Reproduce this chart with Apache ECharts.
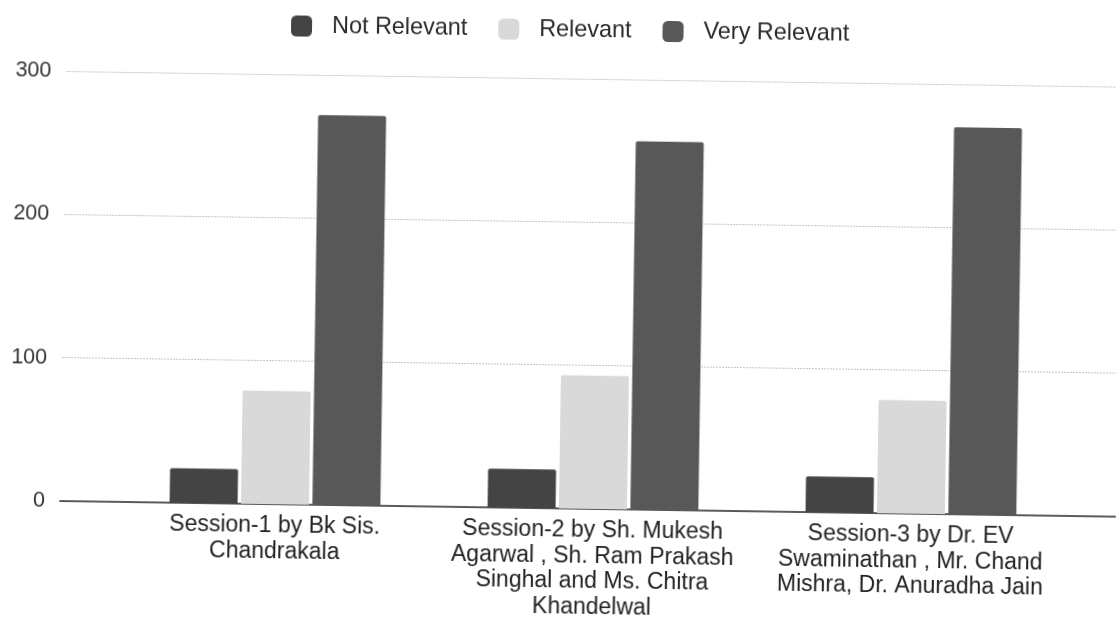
<!DOCTYPE html>
<html>
<head>
<meta charset="utf-8">
<script src="https://cdn.jsdelivr.net/npm/echarts@6/dist/echarts.min.js"></script>
<style>
  html, body { margin: 0; padding: 0; background: #ffffff; overflow: hidden; }
  /* the printed sheet sits slightly askew */
  #chart {
    width: 1116px; height: 617px;
    transform-origin: 60px 501px;
    transform: rotate(0.85deg);
  }
</style>
</head>
<body>
<div id="chart"></div>
<script>
// Session categories (x axis)
const sessions = [
  'Session-1 by Bk Sis.\nChandrakala',
  'Session-2 by Sh. Mukesh\nAgarwal , Sh. Ram Prakash\nSinghal and Ms. Chitra\nKhandelwal',
  'Session-3 by Dr. EV\nSwaminathan , Mr. Chand\nMishra, Dr. Anuradha Jain'
];
// Responses per session
const notRelevant  = [24, 27, 25];
const relevant     = [79, 93, 79];
const veryRelevant = [272, 257, 270];
// Value axis ticks
const yTicks = [0, 100, 200, 300];

const FONT = '"Liberation Sans", Arial, sans-serif';
const chart = echarts.init(document.getElementById('chart'), null, { renderer: 'canvas' });

const yMin = yTicks[0];
const yMax = yTicks[yTicks.length - 1];
const yStep = yTicks[1] - yTicks[0];

chart.setOption({
  backgroundColor: '#ffffff',
  animation: false,
  textStyle: { fontFamily: FONT },
  legend: {
    left: 284,
    top: 11,
    padding: 0,
    itemWidth: 21,
    itemHeight: 21,
    itemGap: 31,
    icon: 'roundRect',
    textStyle: { fontSize: 23.4, color: '#2a2a2a', fontFamily: FONT, padding: [0, 0, 0, 15] },
    data: ['Not Relevant', 'Relevant', 'Very Relevant']
  },
  grid: [
    // full-width frame for gridlines and baseline
    { left: 60, right: 0, top: 71, bottom: 116 },
    // plot band holding the grouped bars
    { left: 116, right: 46, top: 71, bottom: 116 }
  ],
  xAxis: [
    {
      gridIndex: 0, type: 'value', min: 0, max: 1,
      axisLine: { show: true, onZero: false, lineStyle: { color: '#2b2b3a', width: 1.6 } },
      axisTick: { show: false }, axisLabel: { show: false }, splitLine: { show: false }
    },
    {
      gridIndex: 1, type: 'category', data: sessions,
      axisLine: { show: false }, axisTick: { show: false },
      axisLabel: {
        interval: 0, margin: 9, fontSize: 23, lineHeight: 25.5,
        color: '#222222', fontFamily: FONT, align: 'center'
      }
    }
  ],
  yAxis: [
    {
      gridIndex: 0, type: 'value', min: yMin, max: yMax, interval: yStep,
      axisLine: { show: false }, axisTick: { show: false },
      axisLabel: { margin: 15, fontSize: 21.5, color: '#333333', fontFamily: FONT },
      splitLine: { lineStyle: { color: '#c4c4c4', width: 1, type: [2, 1] } }
    },
    {
      gridIndex: 1, type: 'value', min: yMin, max: yMax, interval: yStep,
      show: false, splitLine: { show: false }
    }
  ],
  series: [
    {
      name: 'Not Relevant', type: 'bar', xAxisIndex: 1, yAxisIndex: 1,
      data: notRelevant, barWidth: 68, barGap: '5%',
      itemStyle: { color: '#444444', borderRadius: [2, 2, 0, 0] }
    },
    {
      name: 'Relevant', type: 'bar', xAxisIndex: 1, yAxisIndex: 1,
      data: relevant, barWidth: 68, barGap: '5%',
      itemStyle: { color: '#d9d9d9', borderRadius: [2, 2, 0, 0] }
    },
    {
      name: 'Very Relevant', type: 'bar', xAxisIndex: 1, yAxisIndex: 1,
      data: veryRelevant, barWidth: 68, barGap: '5%',
      itemStyle: { color: '#585858', borderRadius: [2, 2, 0, 0] }
    }
  ]
});
</script>
</body>
</html>
